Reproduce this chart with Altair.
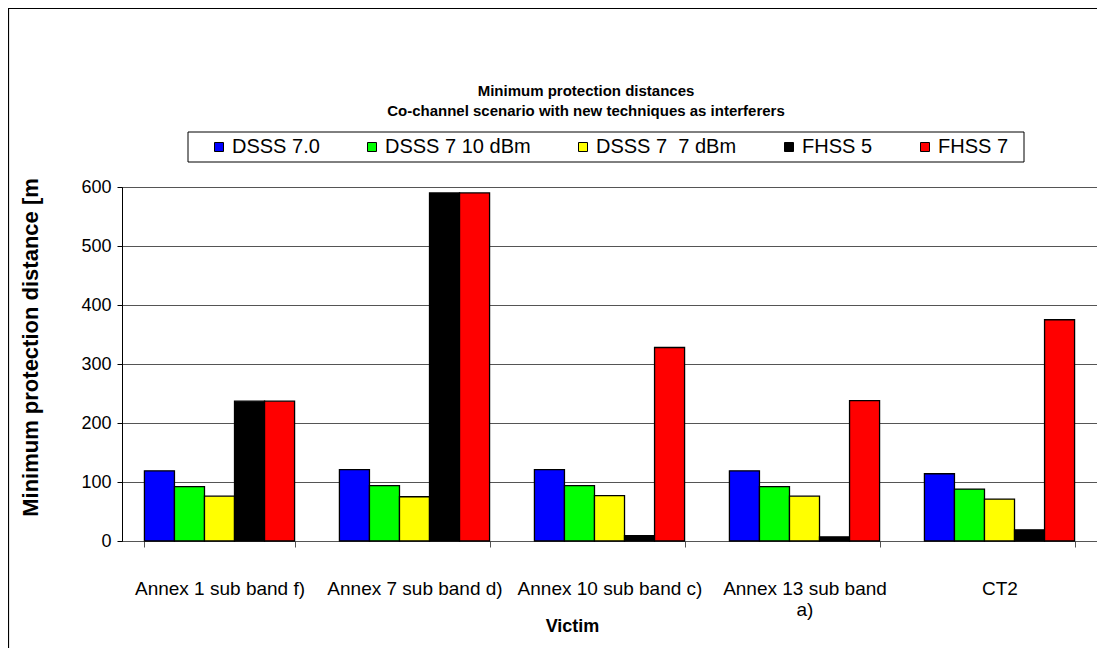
import altair as alt
import pandas as pd

categories = ["Annex 1 sub band f)", "Annex 7 sub band d)", "Annex 10 sub band c)",
              "Annex 13 sub band a)", "CT2"]
series = ["DSSS 7.0", "DSSS 7 10 dBm", "DSSS 7\u00a0 7 dBm", "FHSS 5", "FHSS 7"]
dsss_70 = [119, 121, 121, 119, 114]
dsss_7_10 = [92, 94, 94, 92, 88]
dsss_7_7 = [76, 75, 77, 76, 71]
fhss_5 = [237, 590, 9, 7, 19]
fhss_7 = [237, 590, 328, 238, 375]
colors = ["#0000FF", "#00FF00", "#FFFF00", "#000000", "#FF0000"]
y_ticks = [0, 100, 200, 300, 400, 500, 600]
title_lines = ["Minimum protection distances",
               "Co-channel scenario with new techniques as interferers"]
y_title = "Minimum protection distance [m"
x_title = "Victim"
wrapped = {"Annex 13 sub band a)": ["Annex 13 sub band", "a)"]}

FONT = "Liberation Sans"

rows = []
for s, vals in zip(series, [dsss_70, dsss_7_10, dsss_7_7, fhss_5, fhss_7]):
    for c, v in zip(categories, vals):
        rows.append({"Victim": c, "Series": s, "Distance": v})
df = pd.DataFrame(rows)

label_expr = "datum.value"
for k, v in wrapped.items():
    label_expr = f"datum.value == '{k}' ? {v!r} : ({label_expr})"

one = pd.DataFrame({"k": [0]})

frame = alt.Chart(one).mark_rect(fillOpacity=0, stroke="black", strokeWidth=1.2).encode(
    x=alt.value(-113.5), x2=alt.value(2000), y=alt.value(-178.5), y2=alt.value(2000)
)

legend_box = alt.Chart(one).mark_rect(fill="white", stroke="black", strokeWidth=1).encode(
    x=alt.value(66), x2=alt.value(902), y=alt.value(-55), y2=alt.value(-25)
)

bars = alt.Chart(df).mark_bar(stroke="black", strokeWidth=1.3).encode(
    x=alt.X("Victim:N", sort=categories,
            scale=alt.Scale(paddingInner=0.23, paddingOuter=0.115),
            axis=alt.Axis(title=x_title, labelAngle=0, tickBand="extent", grid=False,
                          labelExpr=label_expr, labelFont=FONT, labelFontSize=19,
                          labelLimit=400, labelOverlap=False,
                          labelColor="black", labelPadding=32, labelLineHeight=21,
                          tickSize=6, tickColor="#555", domainColor="#555",
                          titleFont=FONT, titleFontSize=18, titleFontWeight="bold",
                          titleColor="black", titleX=450, titleY=85,
                          titleBaseline="middle", titleAlign="center")),
    xOffset=alt.XOffset("Series:N", sort=series,
                        scale=alt.Scale(paddingInner=0, paddingOuter=0)),
    y=alt.Y("Distance:Q", scale=alt.Scale(domain=[0, 600], nice=False),
            axis=alt.Axis(values=y_ticks, title=y_title, labelFont=FONT, labelFontSize=18,
                          labelColor="black", labelPadding=6, tickSize=5,
                          tickColor="black", domainColor="black", gridColor="#555",
                          titleFont=FONT, titleFontSize=22, titleFontWeight="bold",
                          titleColor="black", titleX=-92, titleY=160,
                          titleBaseline="middle", titleAlign="center", titleAngle=270)),
    color=alt.Color("Series:N", sort=series, title=None,
                    scale=alt.Scale(domain=series, range=colors),
                    legend=alt.Legend(orient="none", legendX=87, legendY=-50,
                                      direction="horizontal", columns=5, columnPadding=42,
                                      symbolType="square", symbolSize=81,
                                      symbolStrokeColor="black", symbolStrokeWidth=1,
                                      labelFont=FONT, labelFontSize=20, labelColor="black",
                                      labelOffset=3, padding=0)),
)

title = alt.Chart(one).mark_text(font=FONT, fontSize=15, fontWeight="bold", color="black",
                                 align="center", baseline="top", lineHeight=20).encode(
    x=alt.value(464), y=alt.value(-103), text=alt.value(title_lines)
)

chart = alt.layer(frame, legend_box, bars, title).properties(
    width=975, height=354,
    padding={"left": 114, "top": 179, "right": 0, "bottom": 107},
    autosize=alt.AutoSizeParams(type="none"),
    background="white",
).configure_view(stroke="#555", strokeWidth=1)

chart.save("out.html", embed_options={"renderer": "svg", "actions": False})
